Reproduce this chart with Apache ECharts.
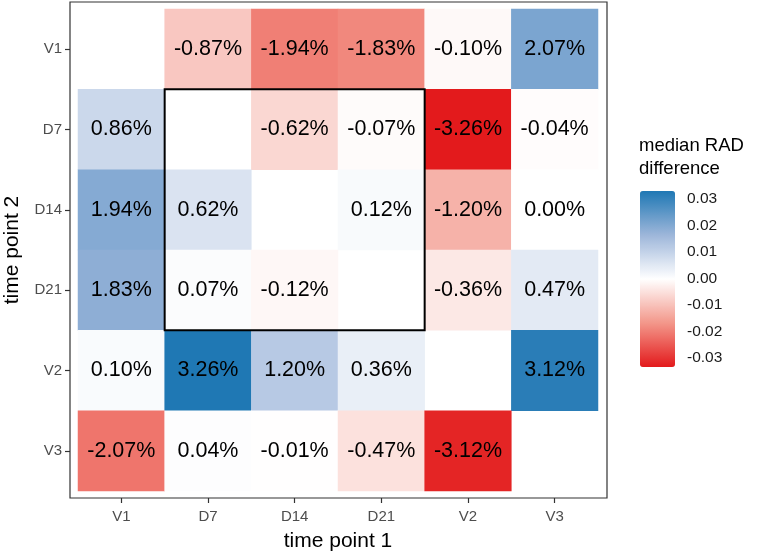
<!DOCTYPE html>
<html>
<head>
<meta charset="utf-8">
<script src="https://cdn.jsdelivr.net/npm/echarts@6/dist/echarts.min.js"></script>
<style>
  html, body { margin: 0; padding: 0; background: #fff; }
  #chart { width: 766px; height: 555px; }
</style>
</head>
<body>
<div id="chart"></div>
<script>
// categories
const xCats = ['V1', 'D7', 'D14', 'D21', 'V2', 'V3'] // time point 1
const yCats = ['V1', 'D7', 'D14', 'D21', 'V2', 'V3'] // time point 2 (top to bottom)

// median RAD difference, one row per time point 2, columns follow xCats
const rowV1 = [null, -0.0087, -0.0194, -0.0183, -0.0010, 0.0207]
const rowD7 = [0.0086, null, -0.0062, -0.0007, -0.0326, -0.0004]
const rowD14 = [0.0194, 0.0062, null, 0.0012, -0.0120, 0.0000]
const rowD21 = [0.0183, 0.0007, -0.0012, null, -0.0036, 0.0047]
const rowV2 = [0.0010, 0.0326, 0.0120, 0.0036, null, 0.0312]
const rowV3 = [-0.0207, 0.0004, -0.0001, -0.0047, -0.0312, null]
const rows = [rowV1, rowD7, rowD14, rowD21, rowV2, rowV3]

// colour scale limits and the boxed block
const scaleLimit = 0.0326
const boxFrom = 'D7'
const boxTo = 'D21'

const FONT = "'Liberation Sans', Arial, Helvetica, sans-serif"

let data = []
rows.forEach((row, yi) => {
  row.forEach((v, xi) => {
    if (v !== null) data.push([xi, yi, v])
  })
})

let mychart = echarts.init(document.getElementById('chart'))
mychart.setOption({
  backgroundColor: '#fff',
  animation: false,
  textStyle: { fontFamily: FONT },
  title: {
    text: 'median RAD\ndifference',
    left: 639,
    top: 134,
    padding: 0,
    textStyle: { fontSize: 18.5, fontWeight: 'normal', color: '#000', lineHeight: 23, fontFamily: FONT },
  },
  grid: [
    { left: 78, right: 168, top: 9, bottom: 64, containLabel: false, outerBoundsMode: 'none' }, // heatmap panel
    { left: 640, width: 35, top: 199, height: 159, containLabel: false, outerBoundsMode: 'none' }, // colour bar ticks
  ],
  xAxis: [
    {
      type: 'category',
      gridIndex: 0,
      data: xCats,
      offset: 7,
      axisLine: { show: false },
      axisTick: { show: true, length: 5, alignWithLabel: true, lineStyle: { color: '#333', width: 1.2 } },
      axisLabel: { color: '#4d4d4d', fontSize: 15, margin: 11, fontFamily: FONT },
      splitLine: { show: false },
      name: 'time point 1',
      nameLocation: 'middle',
      nameGap: 33,
      nameTextStyle: { color: '#000', fontSize: 21, fontFamily: FONT },
    },
    { type: 'value', gridIndex: 1, show: false, min: 0, max: 1 },
  ],
  yAxis: [
    {
      type: 'category',
      gridIndex: 0,
      data: yCats,
      inverse: true,
      offset: 8,
      axisLine: { show: false },
      axisTick: { show: true, length: 5, alignWithLabel: true, lineStyle: { color: '#333', width: 1.2 } },
      axisLabel: { color: '#4d4d4d', fontSize: 15, margin: 8, fontFamily: FONT },
      splitLine: { show: false },
      name: 'time point 2',
      nameLocation: 'middle',
      nameGap: 47,
      nameTextStyle: { color: '#000', fontSize: 21, fontFamily: FONT },
    },
    {
      type: 'value',
      gridIndex: 1,
      position: 'right',
      min: -0.03,
      max: 0.03,
      interval: 0.01,
      axisLine: { show: false },
      axisTick: { show: true, inside: true, length: 7, lineStyle: { color: '#fff', width: 1 } },
      axisLabel: {
        color: '#1a1a1a',
        fontSize: 15.5,
        margin: 12,
        fontFamily: FONT,
        formatter: (v) => (Math.abs(v) < 1e-9 ? '0.00' : v.toFixed(2)),
      },
      splitLine: { show: false },
    },
    {
      type: 'value',
      gridIndex: 1,
      position: 'left',
      min: -0.03,
      max: 0.03,
      interval: 0.01,
      axisLine: { show: false },
      axisTick: { show: true, inside: true, length: 7, lineStyle: { color: '#fff', width: 1 } },
      axisLabel: { show: false },
      splitLine: { show: false },
    },
  ],
  visualMap: {
    type: 'continuous',
    seriesIndex: 0,
    dimension: 2,
    min: -scaleLimit,
    max: scaleLimit,
    calculable: false,
    hoverLink: false,
    orient: 'vertical',
    left: 640,
    top: 191,
    padding: 0,
    itemWidth: 35,
    itemHeight: 176,
    text: null,
    showLabel: false,
    inRange: { color: ['#E31A1C', '#F3978A', '#FFFFFF', '#9DB6DA', '#1F78B4'] },
    z: 1,
  },
  series: [
    {
      type: 'heatmap',
      xAxisIndex: 0,
      yAxisIndex: 0,
      data: data,
      itemStyle: { borderWidth: 0 },
      label: {
        show: true,
        color: '#000',
        fontSize: 21.5,
        fontFamily: FONT,
        formatter: (p) => (p.value[2] * 100).toFixed(2) + '%',
      },
      emphasis: { disabled: true },
    },
  ],
})

// panel border and the black box around the D7..D21 block, placed from the axes
const a = mychart.convertToPixel({ gridIndex: 0 }, [xCats[0], yCats[0]])
const b = mychart.convertToPixel({ gridIndex: 0 }, [xCats[1], yCats[1]])
const cw = b[0] - a[0]
const ch = b[1] - a[1]
const last = mychart.convertToPixel({ gridIndex: 0 }, [xCats[xCats.length - 1], yCats[yCats.length - 1]])
const p1 = mychart.convertToPixel({ gridIndex: 0 }, [boxFrom, boxFrom])
const p2 = mychart.convertToPixel({ gridIndex: 0 }, [boxTo, boxTo])
const padX = 8
const padY = 7
mychart.setOption({
  graphic: [
    {
      type: 'rect',
      z: 50,
      silent: true,
      shape: {
        x: a[0] - cw / 2 - padX,
        y: a[1] - ch / 2 - padY,
        width: last[0] - a[0] + cw + 2 * padX + 1,
        height: last[1] - a[1] + ch + 2 * padY,
      },
      style: { fill: null, stroke: '#333', lineWidth: 1.2 },
    },
    {
      type: 'rect',
      z: 60,
      silent: true,
      shape: {
        x: p1[0] - cw / 2,
        y: p1[1] - ch / 2,
        width: p2[0] - p1[0] + cw,
        height: p2[1] - p1[1] + ch,
      },
      style: { fill: null, stroke: '#000', lineWidth: 2 },
    },
  ],
})
</script>
</body>
</html>
